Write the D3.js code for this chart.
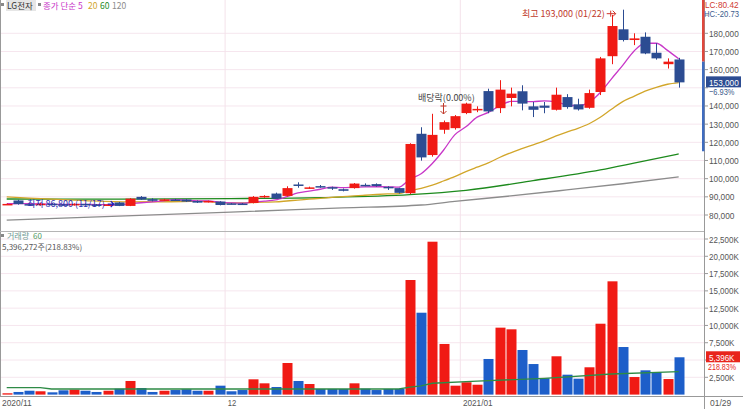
<!DOCTYPE html>
<html>
<head>
<meta charset="utf-8">
<script src="https://cdn.jsdelivr.net/npm/d3@7"></script>
<style>
    body { margin: 0; background: #fff; }
    svg { display: block; font-family: "Liberation Sans", sans-serif; }
    .kr { font-family: "Noto Sans CJK KR", sans-serif; }
</style>
</head>
<body>
<svg id="chart"></svg>
<script>
// daily OHLC (won), 2020/11/03 .. 2021/01/29
const opens  = [85900, 88000, 86000, 85600, 86200, 85900, 85500, 86100, 85800, 85300,
                86900, 85000, 90000, 88700, 88300, 88500, 88500, 87700, 87200, 87400,
                86400, 86300, 86600, 89800, 91800, 90500, 96800, 94800, 95900, 95300,
                94200, 94800, 96600, 97000, 95500, 94800, 92000, 124700, 113000, 126900,
                127800, 136100, 137700, 148200, 138800, 144400, 148100, 139800, 140200, 137900,
                144900, 140900, 139000, 147700, 167400, 182200, 176300, 178100, 169300, 163000,
                165600];
const highs  = [86300, 88400, 86300, 86600, 86500, 86200, 86400, 86300, 86000, 86000,
                87200, 89300, 90400, 89200, 88900, 88900, 88700, 88000, 87900, 87600,
                86600, 86600, 90400, 90900, 92300, 95800, 98000, 95600, 96500, 95600,
                94600, 97600, 97400, 97400, 95800, 95000, 119500, 128300, 135700, 132000,
                135000, 141800, 139800, 149500, 154200, 150100, 151400, 142200, 142200, 150100,
                146500, 144000, 149000, 167000, 190100, 193000, 180000, 180500, 174500, 166200,
                166500];
const lows   = [85600, 85700, 85200, 85300, 85500, 85300, 85200, 85400, 85200, 85000,
                84900, 84900, 88300, 87500, 87900, 88000, 87200, 86600, 86900, 85300,
                85900, 85800, 86400, 89500, 88800, 90200, 95000, 94400, 95000, 93800,
                93000, 94500, 95800, 95600, 93800, 91800, 91500, 109900, 112100, 124700,
                127000, 135500, 136600, 136000, 136100, 139800, 137600, 133900, 136000, 137500,
                138500, 137500, 138500, 146000, 163000, 175500, 173500, 168500, 165500, 160600,
                150100];
const closes = [86100, 86000, 85600, 86200, 85800, 85500, 86100, 85700, 85400, 85800,
                85000, 89000, 88500, 87800, 88600, 88300, 87400, 86800, 87700, 85500,
                86200, 86100, 90000, 90500, 89000, 94800, 96400, 95200, 95500, 94900,
                93300, 97300, 96300, 95900, 94800, 92200, 119100, 111700, 124100, 131100,
                134400, 141300, 138400, 137000, 149000, 146800, 141300, 137900, 139000, 146200,
                139400, 138100, 147100, 166200, 184000, 176300, 177200, 168900, 166200, 164400,
                153000];
// volume, thousand shares
const volumes = [190, 380, 560, 480, 330, 620, 710, 560, 380, 560,
                 850, 1970, 950, 380, 560, 660, 770, 560, 560, 1290,
                 480, 660, 2210, 1630, 1100, 4570, 1970, 1530, 810, 810,
                 810, 1630, 850, 660, 810, 810, 16570, 11840, 22110, 7320,
                 1290, 1780, 1430, 5150, 9680, 9440, 6450, 4420, 2360, 5540,
                 2880, 2300, 3950, 10250, 16380, 6880, 2540, 3510, 3220, 2250,
                 5396];

const ma5Early   = [[0, 86200], [1, 86300], [2, 86200], [3, 86100]];
const ma20Early  = [[0, 90000], [2, 89300], [4, 88700], [7, 87900], [11, 87200], [14, 87300], [18, 87600]];
const ma60Read   = [[0, 88800], [10, 88700], [20, 89000], [28, 89600], [36, 91200], [41, 93600],
                    [47, 98900], [53, 104800], [56, 108500], [60, 113600]];
const ma120Read  = [[0, 77200], [10, 79400], [20, 81600], [30, 83900], [37, 85500], [40, 87500],
                    [45, 90500], [50, 93800], [55, 97200], [60, 101000]];
const volMa60Read = [[0, 1000], [3, 1000], [4, 810], [35, 810], [36, 1070], [37, 1270], [38, 1640],
                     [42, 1950], [48, 2360], [54, 2980], [60, 3330]];

const priceTicks = [80000, 90000, 100000, 110000, 120000, 130000, 140000, 150000, 160000, 170000, 180000, 190000];
const volTicks = [2500, 5000, 7500, 10000, 12500, 15000, 17500, 20000, 22500];
const monthTicks = [{i: 0, label: "2020/11"}, {i: 20, label: "12"}, {i: 41, label: "2021/01"}];
const lastDate = "01/29";

class StockChart {

    constructor(_config) {
        this.config = {
            parentElement: _config.parentElement,
            containerWidth: _config.containerWidth || 743,
            containerHeight: _config.containerHeight || 409,
            plotRight: 704,
            priceTop: 0, priceBottom: 231,
            volBottom: 396
        };
        this.initVis();
    }

    initVis() {
        let vis = this;

        vis.svg = d3.select(vis.config.parentElement)
            .attr('width', vis.config.containerWidth)
            .attr('height', vis.config.containerHeight);

        vis.xScale = d3.scaleLinear().domain([0, closes.length - 1]).range([6.7, 678.7]);
        vis.yScale = d3.scaleLinear().domain([80000, 180000]).range([215, 33.3]);
        vis.vScale = d3.scaleLinear().domain([0, 22500]).range([394.6, 239]);

        vis.red = '#f01a14';
        vis.navy = '#2c4c92';
        vis.volBlue = '#1d5ec9';

        vis.renderVis();
    }

    // narrow axis text, the original uses a condensed bitmap font
    axisText(sel, w, fs) {
        return sel.attr('font-size', fs || 9.5)
            .attr('lengthAdjust', 'spacingAndGlyphs')
            .attr('textLength', function () { return this.textContent.length * (w || 4.25); });
    }

    renderVis() {
        let vis = this;
        const c = vis.config;
        const x = vis.xScale, y = vis.yScale, v = vis.vScale;
        const prevClose = closes[closes.length - 2];

        // grid
        const grid = vis.svg.append('g');
        grid.selectAll('.hgrid').data(priceTicks.filter(d => d < 190000)).join('line')
            .attr('x1', 0).attr('x2', c.plotRight)
            .attr('y1', d => y(d)).attr('y2', d => y(d))
            .attr('stroke', '#f6e6ee');
        grid.selectAll('.vgrid').data(volTicks).join('line')
            .attr('x1', 0).attr('x2', c.plotRight)
            .attr('y1', d => v(d)).attr('y2', d => v(d))
            .attr('stroke', '#f6e6ee');
        grid.selectAll('.mgrid').data(monthTicks.slice(1)).join('line')
            .attr('x1', d => x(d.i) - 5.6).attr('x2', d => x(d.i) - 5.6)
            .attr('y1', 0).attr('y2', c.volBottom)
            .attr('stroke', '#f4e2ea');

        // frame
        vis.svg.append('line').attr('x1', 0.5).attr('x2', 0.5).attr('y1', 0).attr('y2', c.volBottom).attr('stroke', '#999');
        vis.svg.append('line').attr('x1', 0).attr('x2', c.plotRight).attr('y1', c.priceBottom + 0.5).attr('y2', c.priceBottom + 0.5).attr('stroke', '#b5b5b5');
        vis.svg.append('line').attr('x1', 0).attr('x2', 743).attr('y1', c.volBottom + 0.5).attr('y2', c.volBottom + 0.5).attr('stroke', '#999');
        vis.svg.append('line').attr('x1', c.plotRight + 0.5).attr('x2', c.plotRight + 0.5).attr('y1', 0).attr('y2', 409).attr('stroke', '#999');

        // moving averages
        const line = d3.line().x(d => x(d[0])).y(d => y(d[1])).curve(d3.curveMonotoneX);
        const rolling = (n, early) => early.concat(closes.map((d, i) => [i, d3.mean(closes.slice(i - n + 1, i + 1))]).slice(n - 1));
        const mas = [
            {data: ma120Read, color: '#8c8c8c'},
            {data: ma60Read, color: '#1d8a1d'},
            {data: rolling(20, ma20Early), color: '#d2a62a'},
            {data: rolling(5, ma5Early), color: '#c837c8'}
        ];
        vis.svg.append('g').selectAll('path').data(mas).join('path')
            .attr('d', d => line(d.data))
            .attr('fill', 'none').attr('stroke', d => d.color).attr('stroke-width', 1.3);

        // candles
        const candles = closes.map((d, i) => ({i, o: opens[i], h: highs[i], l: lows[i], c: d}));
        const cg = vis.svg.append('g').selectAll('g').data(candles).join('g');
        const col = d => d.c >= d.o ? vis.red : vis.navy;
        cg.append('line')
            .attr('x1', d => Math.round(x(d.i)) + 0.5).attr('x2', d => Math.round(x(d.i)) + 0.5)
            .attr('y1', d => y(d.h)).attr('y2', d => y(d.l))
            .attr('stroke', col);
        cg.append('rect')
            .attr('x', d => Math.round(x(d.i)) - 4.5).attr('width', 10)
            .attr('y', d => y(Math.max(d.o, d.c)))
            .attr('height', d => Math.max(1.5, Math.abs(y(d.o) - y(d.c))))
            .attr('fill', col);

        // volume bars
        vis.svg.append('g').selectAll('rect').data(candles).join('rect')
            .attr('x', d => Math.round(x(d.i)) - 4.5).attr('width', 10)
            .attr('y', d => v(volumes[d.i]))
            .attr('height', d => v(0) - v(volumes[d.i]))
            .attr('fill', d => d.c >= d.o ? vis.red : vis.volBlue);
        const vline = d3.line().x(d => x(d[0])).y(d => v(d[1]));
        vis.svg.append('path').attr('d', vline(volMa60Read))
            .attr('fill', 'none').attr('stroke', '#2e8b46').attr('stroke-width', 1.3);

        // right axis (190,000 label sits under the HC caption, only its tick shows)
        const ax = vis.svg.append('g');
        ax.selectAll('.pt').data(priceTicks).join('line')
            .attr('x1', c.plotRight).attr('x2', c.plotRight + 4)
            .attr('y1', d => y(d)).attr('y2', d => y(d)).attr('stroke', '#999');
        vis.axisText(ax.selectAll('.pl').data(priceTicks.filter(d => d !== 150000 && d < 190000)).join('text')
            .attr('x', 709).attr('y', d => y(d) + 3.5)
            .attr('fill', '#555')
            .text(d => d3.format(',')(d)));
        ax.selectAll('.vt').data(volTicks).join('line')
            .attr('x1', c.plotRight).attr('x2', c.plotRight + 4)
            .attr('y1', d => v(d)).attr('y2', d => v(d)).attr('stroke', '#999');
        vis.axisText(ax.selectAll('.vl').data(volTicks.filter(d => d !== 5000)).join('text')
            .attr('x', 709).attr('y', d => v(d) + 3.5)
            .attr('fill', '#555')
            .text(d => d3.format(',')(d) + 'K'));

        // price limit bar (+30% / -30% from previous close)
        ax.append('rect').attr('x', c.plotRight - 2).attr('width', 2.5)
            .attr('y', 0).attr('height', y(prevClose)).attr('fill', '#e0473c');
        ax.append('rect').attr('x', c.plotRight - 2).attr('width', 2.5)
            .attr('y', y(prevClose)).attr('height', y(prevClose * 0.7) - y(prevClose)).attr('fill', '#3f6cc0');

        vis.axisText(ax.append('text').attr('x', 705).attr('y', 7.5).attr('fill', '#d03a30').text('LC:80.42'), 4.2, 8.5);
        vis.axisText(ax.append('text').attr('x', 704).attr('y', 17).attr('fill', '#3c5a8c').text('HC:-20.73'), 3.9, 8.5);

        // current price / volume labels
        const last = closes[closes.length - 1];
        ax.append('rect').attr('x', 706).attr('y', y(last) - 6).attr('width', 35).attr('height', 11).attr('fill', '#2c4c92');
        vis.axisText(ax.append('text').attr('x', 709).attr('y', y(last) + 3.5).attr('fill', '#fff').text(d3.format(',')(last)));
        vis.axisText(ax.append('text').attr('x', 709).attr('y', y(last) + 13).attr('fill', '#3c5a8c')
            .text(d3.format('.2f')((last / prevClose - 1) * 100) + '%'));
        const lastVol = volumes[volumes.length - 1];
        ax.append('rect').attr('x', 706).attr('y', v(lastVol) - 6).attr('width', 34).attr('height', 11).attr('fill', '#e8251b');
        vis.axisText(ax.append('text').attr('x', 709).attr('y', v(lastVol) + 3.5).attr('fill', '#fff')
            .text(d3.format(',')(lastVol) + 'K'));
        vis.axisText(ax.append('text').attr('x', 708).attr('y', v(lastVol) + 13).attr('fill', '#e8251b').text('218.83%'), 4.0);

        // x labels
        vis.axisText(vis.svg.append('g').selectAll('text').data(monthTicks).join('text')
            .attr('x', d => d.i === 0 ? 2 : x(d.i) - 3)
            .attr('y', 406).attr('fill', '#555')
            .text(d => d.label));
        vis.axisText(vis.svg.append('text').attr('x', 710).attr('y', 406).attr('fill', '#555').text(lastDate));

        // legends
        const lg = vis.svg.append('g').attr('class', 'kr').attr('font-size', 8.5);
        lg.append('rect').attr('x', 1).attr('y', 3).attr('width', 3).attr('height', 3).attr('fill', '#888');
        lg.append('rect').attr('x', 6).attr('y', 0).attr('width', 30).attr('height', 11).attr('fill', '#e6e6e6');
        lg.append('text').attr('x', 7).attr('y', 9).attr('fill', '#333').text('LG전자');
        lg.append('rect').attr('x', 38).attr('y', 3).attr('width', 3).attr('height', 3).attr('fill', '#888');
        lg.append('text').attr('x', 43).attr('y', 9).attr('fill', '#c837c8').text('종가 단순 5');
        lg.append('text').attr('x', 88).attr('y', 9).attr('fill', '#d2a62a').text('20');
        lg.append('text').attr('x', 100).attr('y', 9).attr('fill', '#1d8a1d').text('60');
        lg.append('text').attr('x', 112).attr('y', 9).attr('fill', '#8c8c8c').text('120');

        lg.append('rect').attr('x', 1).attr('y', 234).attr('width', 3).attr('height', 3).attr('fill', '#888');
        lg.append('text').attr('x', 7).attr('y', 239).attr('font-size', 8).attr('fill', '#6d9a94').text('거래량');
        lg.append('text').attr('x', 33).attr('y', 239).attr('font-size', 8).attr('fill', '#4f9a5f').text('60');
        lg.append('text').attr('x', 2).attr('y', 250).attr('font-size', 8).attr('fill', '#555').text('5,396,272주(218.83%)');

        // annotations
        const hiIdx = d3.maxIndex(highs), loIdx = d3.minIndex(lows);
        const an = vis.svg.append('g').attr('class', 'kr').attr('font-size', 9);
        an.append('text').attr('x', x(hiIdx) - 18).attr('y', y(highs[hiIdx]) + 7)
            .attr('text-anchor', 'end').attr('fill', '#c0392b').text('최고 193,000 (01/22)');
        an.append('path')
            .attr('d', `M${x(hiIdx) - 16},${y(highs[hiIdx]) + 4}h9m-3,-3l3,3l-3,3M${x(hiIdx) - 12},${y(highs[hiIdx]) + 1}v6`)
            .attr('fill', 'none').attr('stroke', '#d0332a');
        an.append('text').attr('x', x(loIdx) - 14).attr('y', y(lows[loIdx]) + 1)
            .attr('text-anchor', 'end').attr('fill', '#3030b0').text('최저 86,800 (11/17)');
        an.append('path')
            .attr('d', `M${x(loIdx) - 11},${y(lows[loIdx]) - 2}h6m-3,-3l3,3l-3,3`)
            .attr('fill', 'none').attr('stroke', '#2020c0').attr('stroke-width', 1.3);
        an.append('text').attr('x', 418).attr('y', 101).attr('fill', '#444').text('배당락(0.00%)');
        an.append('path')
            .attr('d', `M${x(39)},103v11m-3,-3l3,3l3,-3M${x(39) - 3},106h6`)
            .attr('fill', 'none').attr('stroke', '#c0392b');
    }
}

const chart = new StockChart({parentElement: '#chart'});
</script>
</body>
</html>
